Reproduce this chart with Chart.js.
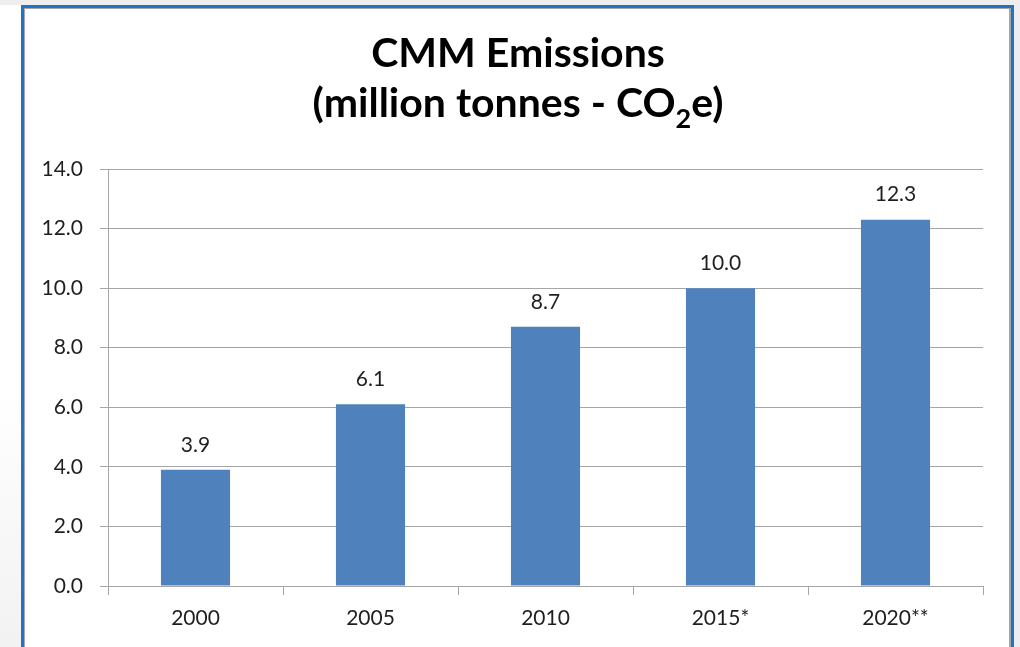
<!DOCTYPE html>
<html>
<head>
<meta charset="utf-8">
<script src="https://cdn.jsdelivr.net/npm/chart.js@4"></script>
<style>
    html, body { margin: 0; padding: 0; }
    body { width: 1020px; height: 647px; background: #eeeeee; position: relative; overflow: hidden; }
    #side { position: absolute; left: 0; top: 5px; width: 21px; height: 642px; background: linear-gradient(#ffffff 60%, #f2f2f2); }
    #frame { position: absolute; left: 21px; top: 5px; width: 987px; height: 700px; background: #fff;
             border: 3px solid #1d74c9; box-shadow: inset 1px 1px 0 #a6a6a6, inset -2px 0 0 #a6a6a6; }
    #wrap { position: absolute; left: 0; top: 0; width: 1020px; height: 647px; }
</style>
</head>
<body>
<div id="side"></div>
<div id="frame"></div>
<div id="wrap"><canvas id="cmmChart"></canvas></div>
<script>
// --- Data ---
const years = ['2000', '2005', '2010', '2015*', '2020**'];
const emissions = [3.9, 6.1, 8.7, 10.0, 12.3];
const yTicks = [0, 2, 4, 6, 8, 10, 12, 14];

const titleLine1 = 'CMM Emissions';
const titleLine2 = ['(million tonnes - CO', '2', 'e)']; // middle part is subscript

const textColor = '#1f1f1f';
const gridColor = '#a6a6a6';
const labelFont = { family: 'Lato, "Noto Sans", sans-serif', size: 21 };

// Title with a subscript, drawn on the canvas
const titlePlugin = {
    id: 'subTitle',
    afterDraw(chart) {
        const ctx = chart.ctx;
        const cx = 518;
        const big = 'bold 41px Lato, sans-serif';
        const small = 'bold 27px Lato, sans-serif';
        ctx.save();
        ctx.fillStyle = '#000';
        ctx.textBaseline = 'alphabetic';
        ctx.font = big;
        ctx.textAlign = 'center';
        ctx.fillText(titleLine1, cx, 67);

        // second line: measure pieces, then draw left to right
        const w0 = ctx.measureText(titleLine2[0]).width;
        const w2 = ctx.measureText(titleLine2[2]).width;
        ctx.font = small;
        const w1 = ctx.measureText(titleLine2[1]).width;
        let x = cx - (w0 + w1 + w2) / 2;
        ctx.textAlign = 'left';
        ctx.font = big;
        ctx.fillText(titleLine2[0], x, 117);
        x += w0;
        ctx.font = small;
        ctx.fillText(titleLine2[1], x, 128);
        x += w1;
        ctx.font = big;
        ctx.fillText(titleLine2[2], x, 117);
        ctx.restore();
    }
};

// Value labels above the bars
const valueLabels = {
    id: 'valueLabels',
    afterDatasetsDraw(chart) {
        const ctx = chart.ctx;
        const meta = chart.getDatasetMeta(0);
        ctx.save();
        ctx.fillStyle = textColor;
        ctx.font = labelFont.size + 'px ' + labelFont.family;
        ctx.textAlign = 'center';
        ctx.textBaseline = 'middle';
        meta.data.forEach((bar, i) => {
            ctx.fillText(emissions[i].toFixed(1), bar.x, bar.y - 25);
        });
        ctx.restore();
    }
};

new Chart(document.getElementById('cmmChart'), {
    type: 'bar',
    data: {
        labels: years,
        datasets: [{
            label: 'CMM Emissions',
            data: emissions,
            backgroundColor: '#4f81bd',
            barPercentage: 0.395,
            categoryPercentage: 1.0
        }]
    },
    options: {
        responsive: true,
        maintainAspectRatio: false,
        animation: false,
        layout: { padding: { top: 169, right: 37, left: 0, bottom: 0 } },
        plugins: {
            legend: { display: false },
            title: { display: false },
            tooltip: { enabled: false }
        },
        scales: {
            x: {
                grid: { display: true, drawOnChartArea: false, offset: true, tickLength: 9, color: gridColor },
                border: { color: gridColor },
                ticks: { color: textColor, font: labelFont, padding: 11 },
                afterFit(scale) { scale.height = 61; }
            },
            y: {
                min: 0,
                max: 14,
                afterBuildTicks(scale) { scale.ticks = yTicks.map(v => ({ value: v })); },
                ticks: { color: textColor, font: labelFont, padding: 17, callback: v => v.toFixed(1) },
                grid: { color: gridColor, tickLength: 8 },
                border: { color: gridColor },
                afterFit(scale) { scale.width = 108; }
            }
        }
    },
    plugins: [titlePlugin, valueLabels]
});
</script>
</body>
</html>
